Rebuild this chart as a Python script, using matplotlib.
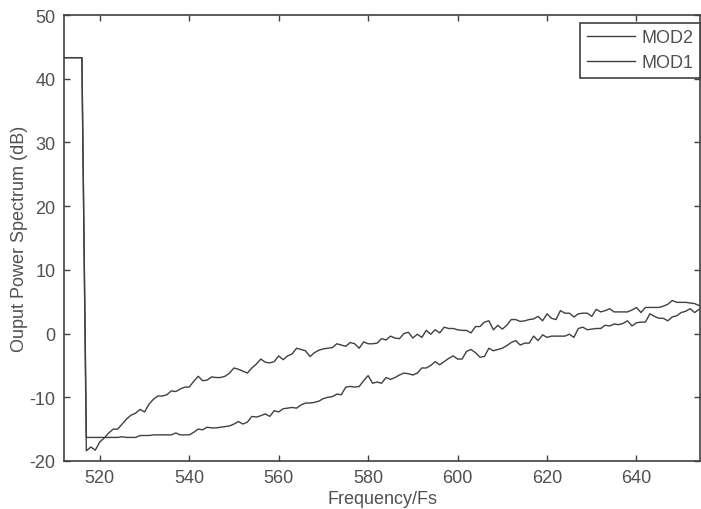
import numpy as np
import matplotlib
matplotlib.use("Agg")
import matplotlib.pyplot as plt

plt.rcParams['font.family'] = ['Liberation Sans', 'DejaVu Sans']
plt.rcParams['axes.unicode_minus'] = False

freq = np.arange(512, 655)

# MOD2 spectrum (dB)
mod2 = [43.3, 43.3, 43.3, 43.3, 43.3,
        -18.4, -17.8, -18.3, -17.0, -16.4, -15.6, -15.0, -15.0, -14.2, -13.4,
        -12.8, -12.5, -11.9, -12.3, -11.1, -10.3, -9.8, -9.8, -9.6, -9.0,
        -9.1, -8.7, -8.4, -8.4, -7.5, -6.7, -7.4, -7.3, -6.8, -6.9,
        -6.9, -6.7, -6.2, -5.4, -5.6, -5.9, -6.2, -5.4, -4.8, -4.0,
        -4.5, -4.6, -4.4, -3.5, -4.1, -3.5, -3.2, -2.3, -2.5, -2.7,
        -3.6, -3.0, -2.6, -2.4, -2.3, -2.2, -1.6, -1.8, -2.0, -1.4,
        -1.6, -2.3, -1.3, -1.6, -1.6, -1.5, -0.8, -1.0, -0.4, -0.7,
        -0.8, 0.0, 0.2, -0.7, -0.1, -0.6, 0.5, -0.1, 0.6, 0.1,
        1.0, 0.8, 0.8, 0.6, 0.5, 0.5, 0.1, 1.1, 1.1, 1.8,
        2.0, 0.6, 1.3, 0.7, 1.3, 2.2, 2.2, 1.9, 2.0, 2.2,
        2.3, 2.7, 2.0, 3.1, 2.4, 2.2, 3.6, 3.2, 3.2, 2.6,
        3.1, 3.2, 3.2, 2.7, 3.8, 3.4, 3.6, 3.9, 3.4, 3.4,
        3.4, 3.4, 3.7, 4.1, 3.3, 4.1, 4.1, 4.1, 4.1, 4.3,
        4.6, 5.2, 4.9, 4.9, 4.9, 4.8, 4.7, 4.4]

# MOD1 spectrum (dB)
mod1 = [43.3, 43.3, 43.3, 43.3, 43.3,
        -16.3, -16.3, -16.3, -16.3, -16.3, -16.3, -16.3, -16.3,
        -16.2, -16.3, -16.3, -16.3, -16.0, -16.0, -16.0, -15.9, -15.9, -15.9,
        -15.9, -15.9, -15.6, -15.9, -15.9, -15.9, -15.5, -15.0, -15.1, -14.7,
        -14.8, -14.8, -14.7, -14.6, -14.5, -14.2, -13.8, -14.2, -13.9, -13.0,
        -13.1, -12.9, -12.6, -13.0, -12.1, -12.3, -11.8, -11.7, -11.6, -11.7,
        -11.2, -10.9, -10.9, -10.8, -10.6, -10.2, -10.0, -9.9, -9.5, -9.6,
        -8.4, -8.3, -8.4, -8.3, -7.4, -6.6, -7.8, -7.6, -7.8, -6.9,
        -7.2, -6.9, -6.5, -6.2, -6.3, -6.5, -6.2, -5.4, -5.4, -5.0,
        -4.4, -4.9, -4.4, -3.9, -3.5, -4.0, -4.0, -2.8, -2.5, -3.0,
        -3.7, -3.6, -2.3, -2.7, -2.5, -2.3, -1.9, -1.4, -1.1, -1.8,
        -1.5, -1.5, -0.4, -1.1, -0.2, -0.6, -0.4, -0.4, -0.4, -0.4,
        -0.1, -0.6, 0.8, 1.0, 0.6, 0.7, 0.8, 0.8, 1.3, 1.2,
        1.5, 1.4, 1.6, 2.0, 1.2, 1.7, 1.8, 1.8, 3.1, 2.7,
        2.4, 2.4, 2.0, 2.6, 2.8, 3.3, 3.5, 3.9, 3.3, 3.8]

assert len(mod2) == len(freq) and len(mod1) == len(freq)

line_col = '#404040'
text_col = '#505050'
frame_col = '#404040'

fig = plt.figure(figsize=(7.01, 5.10), dpi=100)
ax = fig.add_axes([64 / 701, 1 - 462 / 510, 636 / 701, 446 / 510])

ax.plot(freq, mod2, color=line_col, lw=1.0, label='MOD2')
ax.plot(freq, mod1, color=line_col, lw=1.0, label='MOD1')

ax.set_xlim(512.0, 654.2)
ax.set_ylim(-20, 50)
ax.set_xticks(np.arange(520, 641, 20))
ax.set_yticks(np.arange(-20, 51, 10))

ax.tick_params(direction='in', top=True, right=True, length=4, width=1,
               color=frame_col, labelcolor=text_col, labelsize=13, pad=6)
for s in ax.spines.values():
    s.set_color(frame_col)
    s.set_linewidth(1.2)

ax.set_xlabel('Frequency/Fs', fontsize=13, color=text_col, labelpad=3)
ax.set_ylabel('Ouput Power Spectrum (dB)', fontsize=13, color=text_col, labelpad=1)

leg = ax.legend(loc='upper right', bbox_to_anchor=(1.0, 1 - 8 / 446),
                borderaxespad=0, fancybox=False, framealpha=1,
                edgecolor=frame_col, fontsize=13, handlelength=2.7,
                handletextpad=0.35, borderpad=0.35, labelspacing=0.45)
leg.get_frame().set_linewidth(1.2)
for t in leg.get_texts():
    t.set_color(text_col)

fig.savefig('out.png', dpi=100)
